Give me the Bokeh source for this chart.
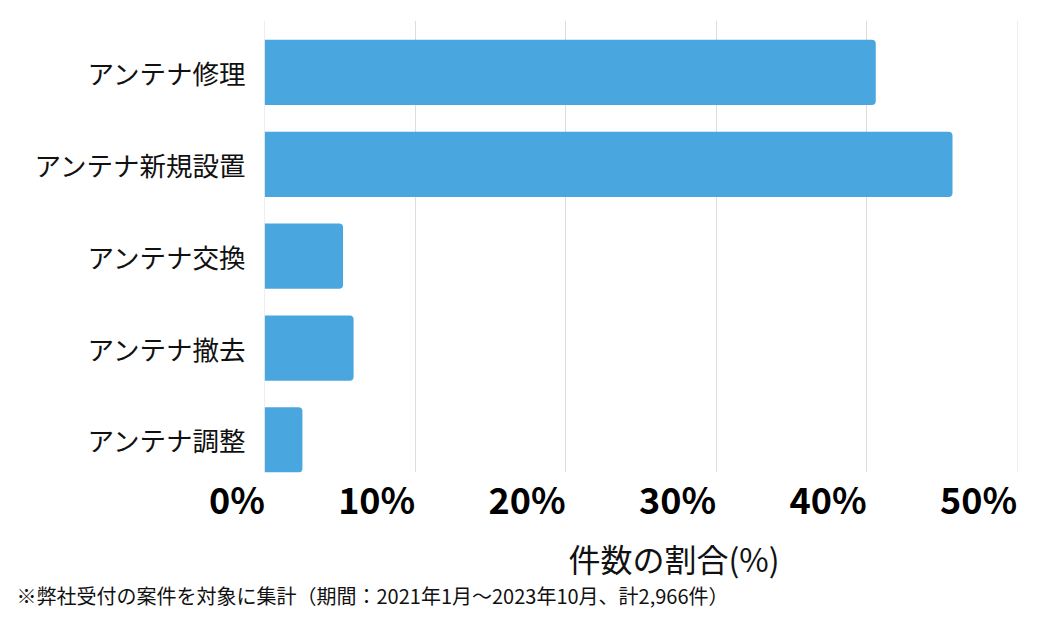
from bokeh.plotting import figure
from bokeh.models import Range1d, FixedTicker, Title
from bokeh.embed import file_html
from bokeh.resources import INLINE

# データ
categories = ["アンテナ修理", "アンテナ新規設置", "アンテナ交換", "アンテナ撤去", "アンテナ調整"]
shares = [40.6, 45.7, 5.2, 5.9, 2.5]
x_ticks = [0, 10, 20, 30, 40, 50]
x_tick_labels = ["0%", "10%", "20%", "30%", "40%", "50%"]
x_title = "件数の割合(%)"
note = "※弊社受付の案件を対象に集計（期間：2021年1月～2023年10月、計2,966件）"

JP = "Noto Sans CJK JP"
BAR = "#49a6de"

positions = list(range(len(categories)))

p = figure(width=1038, height=628,
           x_range=Range1d(-0.02, 50.02),
           y_range=Range1d(4.355, -0.565),
           output_backend="svg", toolbar_location=None,
           min_border_left=264, min_border_right=21,
           min_border_top=20, min_border_bottom=156)
p.outline_line_color = None
p.background_fill_color = "white"
p.border_fill_color = "white"

p.hbar(y=positions, right=shares, left=0, height=0.71,
       fill_color=BAR, line_color=None, border_radius=(0, 4, 4, 0))

# 軸（目盛ラベルは目盛の右端に揃える：ごく小さな正の角度で右揃えになる）
p.xaxis.ticker = FixedTicker(ticks=x_ticks)
p.xaxis.major_label_overrides = dict(zip(x_ticks, x_tick_labels))
p.xaxis.major_label_orientation = 1e-6
p.xaxis.major_label_text_font = JP
p.xaxis.major_label_text_font_style = "bold"
p.xaxis.major_label_text_font_size = "36px"
p.xaxis.major_label_text_color = "black"
p.xaxis.major_label_standoff = 25

p.yaxis.ticker = FixedTicker(ticks=positions)
p.yaxis.major_label_overrides = dict(zip(positions, categories))
p.yaxis.major_label_text_font = JP
p.yaxis.major_label_text_font_size = "26.5px"
p.yaxis.major_label_text_color = "#111111"
p.yaxis.major_label_standoff = 18

for ax in (p.xaxis, p.yaxis):
    ax.axis_line_color = None
    ax.major_tick_line_color = None
    ax.minor_tick_line_color = None
    ax.major_tick_out = 0
    ax.major_tick_in = 0

p.xgrid.ticker = FixedTicker(ticks=x_ticks)
p.xgrid.grid_line_color = "#dddddd"
p.xgrid.grid_line_width = 1
p.ygrid.grid_line_color = None

# 軸タイトルと注記
p.add_layout(Title(text=x_title, align="left", offset=304, standoff=-40,
                   text_font=JP, text_font_style="normal", text_font_size="32px",
                   text_color="#111111"), "below")
p.add_layout(Title(text=note, align="left", offset=-248, standoff=36,
                   text_font=JP, text_font_style="normal", text_font_size="20px",
                   text_color="#111111"), "below")

open("out.html", "w").write(file_html(p, INLINE))
